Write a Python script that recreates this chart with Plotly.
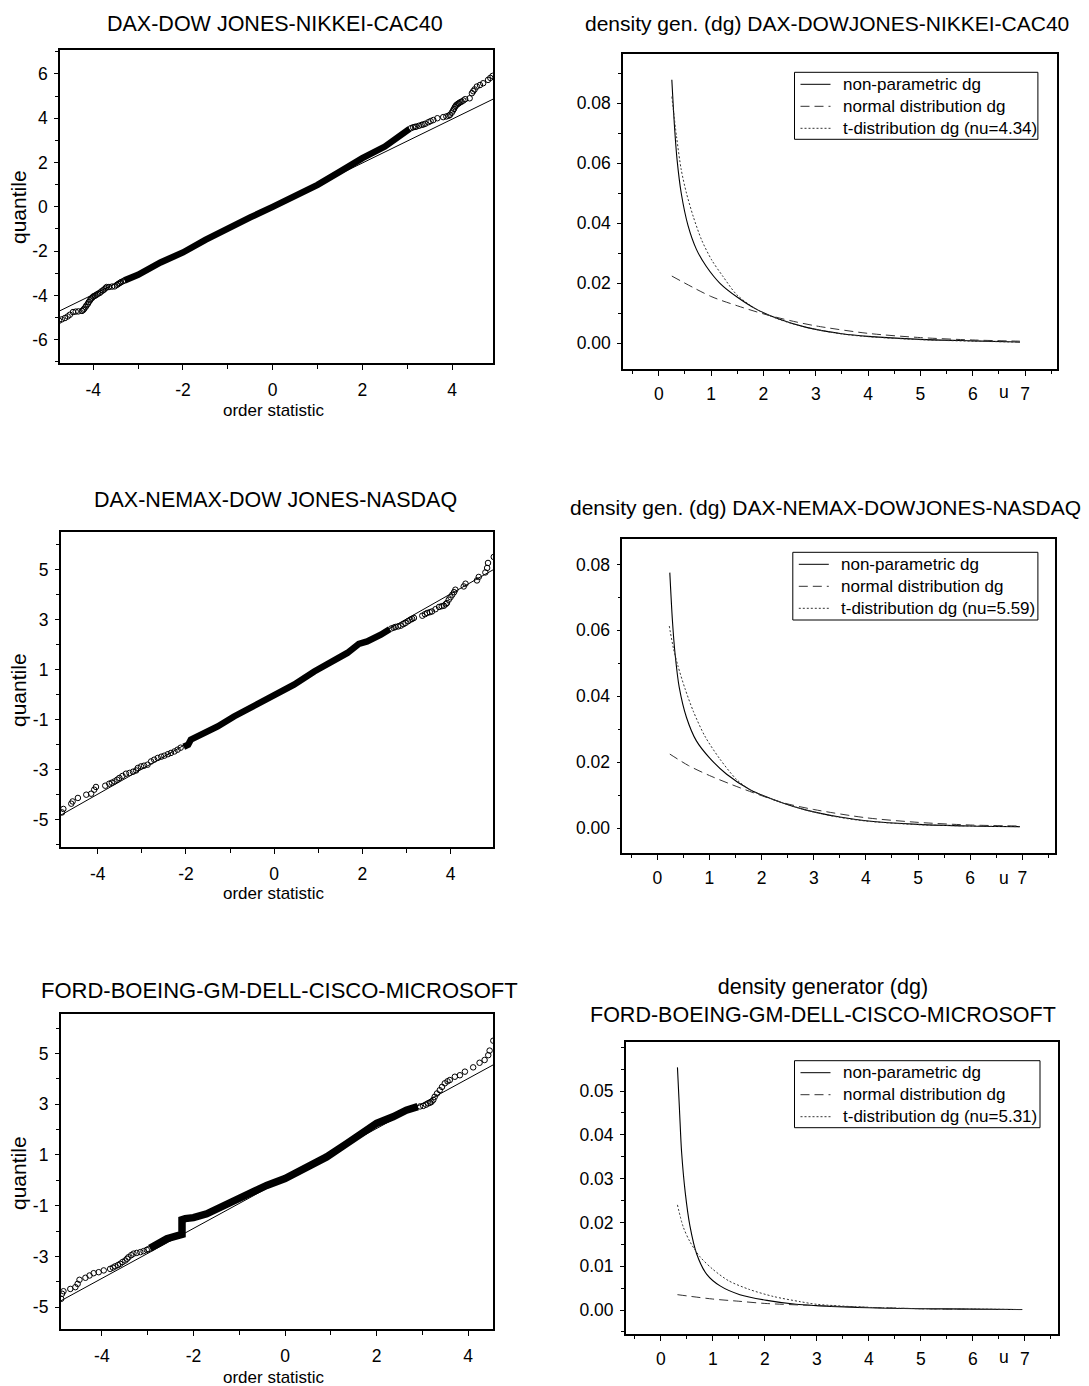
import plotly.graph_objects as go

W, H = 1089, 1386
OFF = 8  # the page body has an 8px margin; positions below are page pixels
FONT = "Liberation Sans, Arial, sans-serif"

# ---------------- data: QQ plots (order statistic vs quantile) ----------------
# Panel 1: DAX-DOW JONES-NIKKEI-CAC40
qq1_tail_x = [-4.76, -4.70, -4.63, -4.57, -4.52, -4.45, -4.39, -4.33, -4.25, -4.22, -4.2, -4.17, -4.15,
              -4.12, -4.1, -4.07, -4.05, -4.02, -4.0, -3.97, -3.95, -3.92, -3.89, -3.85, -3.82, -3.78,
              -3.75, -3.72, -3.70, -3.65, -3.58, -3.52, -3.47, -3.44, -3.41, -3.38, -3.34, -3.3,
              3.08, 3.13, 3.17, 3.2, 3.26, 3.32, 3.36, 3.4, 3.47, 3.52, 3.58, 3.67, 3.80, 3.87, 3.92,
              3.95, 3.99, 4.02, 4.04, 4.06, 4.08, 4.10, 4.13, 4.15, 4.18, 4.21, 4.25, 4.29, 4.39, 4.44,
              4.47, 4.50, 4.55, 4.62, 4.69, 4.80, 4.85, 4.90]
qq1_tail_y = [-5.14, -5.08, -5.02, -4.95, -4.87, -4.75, -4.73, -4.72, -4.70, -4.65, -4.60, -4.52, -4.45,
              -4.38, -4.30, -4.22, -4.15, -4.10, -4.05, -4.02, -4.00, -3.96, -3.92, -3.88, -3.82, -3.77,
              -3.72, -3.66, -3.62, -3.62, -3.60, -3.59, -3.52, -3.48, -3.44, -3.40, -3.36, -3.32,
              3.55, 3.59, 3.61, 3.62, 3.66, 3.70, 3.72, 3.75, 3.82, 3.87, 3.92, 4.00, 4.05, 4.08, 4.11,
              4.15, 4.25, 4.35, 4.42, 4.50, 4.56, 4.61, 4.65, 4.68, 4.72, 4.75, 4.80, 4.86, 4.90, 5.13,
              5.22, 5.30, 5.43, 5.50, 5.58, 5.73, 5.82, 5.91]
qq1_band_x = [-3.3, -3.0, -2.5, -2.0, -1.5, -1.0, -0.5, 0.0, 0.5, 1.0, 1.5, 2.0, 2.5, 2.8, 3.05]
qq1_band_y = [-3.32, -3.07, -2.51, -2.06, -1.49, -0.96, -0.48, 0.0, 0.47, 0.99, 1.59, 2.2, 2.72, 3.17, 3.52]
qq1_line_x = [-4.74, 4.91]
qq1_line_y = [-4.69, 4.86]

# Panel 3: DAX-NEMAX-DOW JONES-NASDAQ
qq3_tail_x = [-4.81, -4.78, -4.6, -4.57, -4.45, -4.26, -4.15, -4.08, -4.04, -3.83, -3.74, -3.68, -3.62,
              -3.56, -3.51, -3.44, -3.36, -3.28, -3.2, -3.13, -3.09, -3.02, -2.95, -2.87, -2.79, -2.72,
              -2.64, -2.56, -2.49, -2.41, -2.34, -2.26, -2.19, -2.12,
              2.66, 2.71, 2.75, 2.81, 2.87, 2.93, 2.98, 3.04, 3.09, 3.13, 3.17, 3.36, 3.42, 3.47, 3.53,
              3.58, 3.66, 3.74, 3.80, 3.85, 3.89, 3.92, 3.96, 4.0, 4.04, 4.08, 4.11, 4.3, 4.34, 4.6,
              4.64, 4.79, 4.83, 4.85, 4.98]
qq3_tail_y = [-4.71, -4.57, -4.36, -4.27, -4.13, -4.0, -3.96, -3.8, -3.69, -3.64, -3.56, -3.52, -3.47,
              -3.40, -3.33, -3.25, -3.16, -3.13, -3.08, -3.03, -2.93, -2.87, -2.84, -2.80, -2.67, -2.6,
              -2.53, -2.48, -2.44, -2.38, -2.33, -2.27, -2.2, -2.12,
              2.65, 2.68, 2.71, 2.73, 2.76, 2.82, 2.87, 2.94, 3.0, 3.03, 3.07, 3.16, 3.22, 3.27, 3.30,
              3.33, 3.42, 3.51, 3.54, 3.56, 3.62, 3.67, 3.8, 3.9, 4.0, 4.1, 4.2, 4.33, 4.44, 4.57,
              4.71, 4.89, 5.07, 5.27, 5.51]
qq3_band_x = [-2.05, -1.95, -1.89, -1.58, -1.28, -0.91, -0.53, 0.0, 0.45, 0.91, 1.28, 1.66, 1.92, 2.11, 2.42, 2.62]
qq3_band_y = [-2.08, -2.0, -1.80, -1.53, -1.27, -0.87, -0.53, 0.0, 0.40, 0.93, 1.27, 1.67, 2.03, 2.13, 2.40, 2.62]
qq3_line_x = [-4.84, 4.97]
qq3_line_y = [-4.82, 5.0]

# Panel 5: FORD-BOEING-GM-DELL-CISCO-MICROSOFT
qq5_tail_x = [-4.89, -4.87, -4.84, -4.69, -4.58, -4.53, -4.49, -4.36, -4.27, -4.18, -4.07, -3.96,
              -3.82, -3.76, -3.71, -3.65, -3.6, -3.55, -3.49, -3.45, -3.42, -3.36, -3.31, -3.24,
              -3.16, -3.09, -3.02, -2.98,
              2.95, 3.02, 3.08, 3.13, 3.17, 3.2, 3.24, 3.27, 3.32, 3.38, 3.43, 3.49, 3.55, 3.6,
              3.71, 3.82, 3.93, 4.11, 4.25, 4.36, 4.44, 4.47, 4.55]
qq5_tail_y = [-4.67, -4.47, -4.37, -4.28, -4.21, -4.08, -3.92, -3.84, -3.75, -3.66, -3.62, -3.55,
              -3.49, -3.44, -3.39, -3.34, -3.29, -3.22, -3.16, -3.09, -3.03, -2.95, -2.89, -2.86,
              -2.83, -2.79, -2.74, -2.71,
              2.91, 2.93, 2.98, 3.03, 3.06, 3.09, 3.17, 3.29, 3.42, 3.55, 3.68, 3.82, 3.9, 3.95,
              4.08, 4.14, 4.28, 4.45, 4.63, 4.74, 4.93, 5.11, 5.5]
qq5_band_x = [-2.95, -2.8, -2.58, -2.25, -2.25, -2.18, -2.0, -1.71, -1.27, -0.84, -0.4, 0.0, 0.47,
              0.91, 1.35, 1.71, 2.0, 2.36, 2.65, 2.9]
qq5_band_y = [-2.68, -2.53, -2.30, -2.13, -1.55, -1.51, -1.47, -1.32, -0.92, -0.53, -0.2, 0.07, 0.53,
              0.92, 1.45, 1.91, 2.24, 2.5, 2.76, 2.9]
qq5_line_x = [-4.90, 4.55]
qq5_line_y = [-4.75, 4.55]

# ---------------- data: density generators ----------------
# Panel 2 (nu=4.34)
dg2_np_u = [0.25, 0.30, 0.35, 0.43, 0.56, 0.72, 0.91, 1.17, 1.49, 1.87, 2.31, 2.82, 3.5, 4.0, 5.0, 6.0, 6.9]
dg2_np_v = [0.0878, 0.0725, 0.0612, 0.0500, 0.0392, 0.0313, 0.0256, 0.0200, 0.0155, 0.0113, 0.0080,
            0.0053, 0.0032, 0.0023, 0.0013, 0.0008, 0.0004]
dg2_t_u = [0.25, 0.34, 0.43, 0.53, 0.66, 0.82, 1.01, 1.23, 1.49, 1.87, 2.31, 2.82, 3.5, 4.0, 5.0, 6.0, 6.9]
dg2_t_v = [0.0822, 0.0689, 0.0578, 0.0500, 0.0422, 0.0344, 0.0278, 0.0222, 0.0162, 0.0113, 0.0079,
           0.0053, 0.0031, 0.0022, 0.0012, 0.0007, 0.0004]
dg2_n_u = [0.25, 1.0, 1.5, 2.0, 2.5, 3.0, 4.0, 5.0, 6.0, 6.9]
dg2_n_v = [0.0224, 0.0156, 0.0125, 0.0098, 0.0076, 0.0058, 0.0033, 0.0019, 0.0011, 0.0007]

# Panel 4 (nu=5.59)
dg4_np_u = [0.24, 0.29, 0.34, 0.42, 0.56, 0.75, 1.01, 1.33, 1.78, 2.35, 2.86, 3.5, 4.0, 5.0, 6.0, 6.95]
dg4_np_v = [0.0775, 0.0630, 0.0530, 0.0428, 0.0336, 0.0265, 0.0212, 0.0164, 0.0117, 0.0080, 0.0055,
            0.0034, 0.0023, 0.0012, 0.0007, 0.0005]
dg4_t_u = [0.23, 0.31, 0.40, 0.53, 0.69, 0.91, 1.20, 1.52, 1.80, 2.35, 2.86, 3.5, 4.0, 5.0, 6.0, 6.95]
dg4_t_v = [0.0613, 0.0545, 0.0490, 0.0424, 0.0355, 0.0280, 0.0210, 0.0148, 0.0115, 0.0080, 0.0055,
           0.0033, 0.0022, 0.0011, 0.0007, 0.0005]
dg4_n_u = [0.24, 0.6, 1.0, 1.6, 2.4, 3.0, 4.0, 5.0, 6.0, 6.95]
dg4_n_v = [0.0225, 0.0190, 0.0160, 0.0122, 0.0078, 0.0057, 0.0032, 0.0018, 0.0010, 0.0007]

# Panel 6 (nu=5.31)
dg6_np_u = [0.32, 0.36, 0.40, 0.47, 0.56, 0.69, 0.88, 1.14, 1.52, 2.04, 2.6, 3.0, 4.0, 5.0, 6.0, 6.95]
dg6_np_v = [0.0554, 0.0455, 0.0360, 0.0268, 0.0192, 0.0128, 0.0082, 0.0055, 0.0035, 0.0022, 0.0013,
            0.0010, 0.0005, 0.0003, 0.0002, 0.0001]
dg6_t_u = [0.32, 0.43, 0.56, 0.75, 1.0, 1.3, 1.7, 2.16, 2.68, 3.0, 4.0, 5.0, 6.0, 6.95]
dg6_t_v = [0.0240, 0.0190, 0.0156, 0.0122, 0.0093, 0.0067, 0.0047, 0.0031, 0.0019, 0.0013, 0.0006,
           0.0003, 0.0002, 0.0001]
dg6_n_u = [0.32, 1.0, 1.5, 2.0, 3.0, 4.0, 5.0, 6.0, 6.95]
dg6_n_v = [0.0035, 0.0025, 0.0020, 0.0015, 0.0010, 0.0006, 0.0003, 0.00015, 0.0001]

# ---------------- tick labels ----------------
qq1_yticks = [-6, -4, -2, 0, 2, 4, 6]
qq35_yticks = [-5, -3, -1, 1, 3, 5]
qq_xticks = [-4, -2, 0, 2, 4]
dg_xticks = [0, 1, 2, 3, 4, 5, 6, 7]
dg24_yticks = [0.0, 0.02, 0.04, 0.06, 0.08]
dg6_yticks = [0.0, 0.01, 0.02, 0.03, 0.04, 0.05]

titles = ["DAX-DOW JONES-NIKKEI-CAC40",
          "density gen. (dg) DAX-DOWJONES-NIKKEI-CAC40",
          "DAX-NEMAX-DOW JONES-NASDAQ",
          "density gen. (dg) DAX-NEMAX-DOWJONES-NASDAQ",
          "FORD-BOEING-GM-DELL-CISCO-MICROSOFT",
          "density generator (dg)<br>FORD-BOEING-GM-DELL-CISCO-MICROSOFT"]
legend_names = ["non-parametric dg", "normal distribution dg", "t-distribution dg (nu={})"]
nus = ["4.34", "5.59", "5.31"]

SOLID = dict(color="black", width=1.1)
DASH = dict(color="#333333", width=1, dash="9px,5px")
DOT = dict(color="#333333", width=1, dash="2px,2px")


def lab(v):
    return str(v).replace("\u2212", "-")


def px(x):
    return (x - OFF) / W


def py(y):
    return 1 - (y - OFF) / H


fig = go.Figure()

# ---------- QQ panels ----------
qq_sets = [
    (1, qq1_tail_x, qq1_tail_y, qq1_band_x, qq1_band_y, qq1_line_x, qq1_line_y, 6.5),
    (3, qq3_tail_x, qq3_tail_y, qq3_band_x, qq3_band_y, qq3_line_x, qq3_line_y, 6.5),
    (5, qq5_tail_x, qq5_tail_y, qq5_band_x, qq5_band_y, qq5_line_x, qq5_line_y, 7.5),
]
for k, tx, ty, bx, by, lx, ly, bw in qq_sets:
    xa = "x" if k == 1 else f"x{k}"
    ya = "y" if k == 1 else f"y{k}"
    fig.add_trace(go.Scatter(x=lx, y=ly, mode="lines", line=dict(color="black", width=1),
                             xaxis=xa, yaxis=ya, showlegend=False, hoverinfo="skip"))
    fig.add_trace(go.Scatter(x=bx, y=by, mode="lines", line=dict(color="black", width=bw),
                             xaxis=xa, yaxis=ya, showlegend=False))
    fig.add_trace(go.Scatter(x=tx, y=ty, mode="markers",
                             marker=dict(symbol="circle-open", size=5.5, color="black",
                                         line=dict(width=1, color="black")),
                             xaxis=xa, yaxis=ya, showlegend=False))

# ---------- density generator panels ----------
dg_sets = [
    (2, dg2_np_u, dg2_np_v, dg2_n_u, dg2_n_v, dg2_t_u, dg2_t_v, nus[0]),
    (4, dg4_np_u, dg4_np_v, dg4_n_u, dg4_n_v, dg4_t_u, dg4_t_v, nus[1]),
    (6, dg6_np_u, dg6_np_v, dg6_n_u, dg6_n_v, dg6_t_u, dg6_t_v, nus[2]),
]
for k, nu_u, nu_v, nn_u, nn_v, nt_u, nt_v, nu in dg_sets:
    xa, ya = f"x{k}", f"y{k}"
    fig.add_trace(go.Scatter(x=nu_u, y=nu_v, mode="lines", name=legend_names[0],
                             line=dict(**SOLID, shape="spline", smoothing=0.8),
                             xaxis=xa, yaxis=ya, showlegend=False))
    fig.add_trace(go.Scatter(x=nn_u, y=nn_v, mode="lines", name=legend_names[1],
                             line=dict(**DASH, shape="spline", smoothing=0.8),
                             xaxis=xa, yaxis=ya, showlegend=False))
    fig.add_trace(go.Scatter(x=nt_u, y=nt_v, mode="lines", name=legend_names[2].format(nu),
                             line=dict(**DOT, shape="spline", smoothing=0.8),
                             xaxis=xa, yaxis=ya, showlegend=False))

# panel boxes in page pixels: (left, right, top, bottom)
boxes = {
    1: (60, 493, 50, 363),
    2: (623, 1056.5, 54, 369.3),
    3: (60.7, 493.3, 531.7, 846.7),
    4: (622.3, 1054.7, 539, 853.3),
    5: (60.7, 493.3, 1014.3, 1329.3),
    6: (625.8, 1058.2, 1041.7, 1334),
}
xranges = {1: [-4.74, 4.91], 2: [-0.683, 7.60], 3: [-4.84, 4.97],
           4: [-0.671, 7.62], 5: [-4.90, 4.55], 6: [-0.673, 7.64]}
yranges = {1: [-7.05, 7.08], 2: [-0.00867, 0.0964], 3: [-6.08, 6.52],
           4: [-0.00758, 0.0877], 5: [-5.87, 6.54], 6: [-0.00548, 0.06126]}

tickfont = dict(family=FONT, size=17.5, color="black")
layout = dict(width=W, height=H, margin=dict(l=0, r=0, t=0, b=0, autoexpand=False),
              paper_bgcolor="white", plot_bgcolor="white", showlegend=False,
              font=dict(family=FONT, color="black"))

for k in range(1, 7):
    x0, x1, y0, y1 = boxes[k]
    xname = "xaxis" if k == 1 else f"xaxis{k}"
    yname = "yaxis" if k == 1 else f"yaxis{k}"
    anchor_x = "x" if k == 1 else f"x{k}"
    anchor_y = "y" if k == 1 else f"y{k}"
    if k in (1, 3, 5):
        xt = qq_xticks
        yt = qq1_yticks if k == 1 else qq35_yticks
        xminor = dict(ticks="outside", ticklen=4, dtick=1, tick0=0, tickcolor="black", tickwidth=1)
        yminor = dict(ticks="outside", ticklen=3, dtick=1, tick0=0, tickcolor="black", tickwidth=1)
        xtt = [lab(v) for v in xt]
        ytt = [lab(v) for v in yt]
        xstand = 5
    else:
        xt = dg_xticks
        yt = dg24_yticks if k != 6 else dg6_yticks
        xminor = dict(ticks="outside", ticklen=3, dtick=0.5, tick0=0, tickcolor="black", tickwidth=1)
        yminor = dict(ticks="outside", ticklen=3, dtick=(0.01 if k != 6 else 0.005), tick0=0,
                      tickcolor="black", tickwidth=1)
        xtt = [str(v) for v in xt]
        ytt = [f"{v:.2f}" for v in yt]
        xstand = 3
    layout[xname] = dict(domain=[px(x0), px(x1)], range=xranges[k], anchor=anchor_y,
                         showline=True, mirror=True, linecolor="black", linewidth=1.6,
                         showgrid=False, zeroline=False, ticks="outside", ticklen=5,
                         tickcolor="black", tickwidth=1, tickmode="array", tickvals=xt, ticktext=xtt,
                         tickfont=tickfont, ticklabelstandoff=xstand, minor=xminor)
    layout[yname] = dict(domain=[py(y1), py(y0)], range=yranges[k], anchor=anchor_x,
                         showline=True, mirror=True, linecolor="black", linewidth=1.6,
                         showgrid=False, zeroline=False, ticks="outside", ticklen=4,
                         tickcolor="black", tickwidth=1, tickmode="array", tickvals=yt, ticktext=ytt,
                         tickfont=tickfont, ticklabelstandoff=3, minor=yminor)

annotations = []
shapes = []


def add_text(text, cx, cy, size, angle=0, xanchor="center"):
    annotations.append(dict(text=text, x=px(cx), y=py(cy), xref="paper", yref="paper",
                            xanchor=xanchor, yanchor="middle", showarrow=False, textangle=angle,
                            font=dict(family=FONT, size=size, color="black")))


add_text(titles[0], 275, 24, 21.5)
add_text(titles[1], 827, 24, 21)
add_text(titles[2], 275, 500, 21.5)
add_text(titles[3], 825, 507, 21)
add_text(titles[4], 279, 990, 22)
annotations.append(dict(text=titles[5], x=px(823), y=py(1001), xref="paper", yref="paper",
                        xanchor="center", yanchor="middle", showarrow=False, align="center",
                        font=dict(family=FONT, size=21.5, color="black")))
for cy in (410, 893, 1377):
    add_text("order statistic", 274, cy, 17)
for cy in (207, 690, 1173):
    add_text("quantile", 18, cy, 21, angle=-90)
for cy in (392, 878, 1357):
    add_text("u", 1004, cy, 17.5)

# ---------- legends (box, line samples, labels) ----------
legend_boxes = [(794.5, 1037.9, 72.3, 139.3, nus[0]),
                (792.8, 1037.9, 552.3, 620.0, nus[1]),
                (794.5, 1040.0, 1060.7, 1127.7, nus[2])]
styles = [SOLID, DASH, DOT]
for lx0, lx1, ly0, ly1, nu in legend_boxes:
    shapes.append(dict(type="rect", xref="paper", yref="paper", x0=px(lx0), x1=px(lx1),
                       y0=py(ly0), y1=py(ly1), line=dict(color="black", width=1),
                       fillcolor="white", layer="above"))
    for i, name in enumerate(legend_names):
        cy = ly0 + 12 + 22 * i
        st = styles[i]
        shapes.append(dict(type="line", xref="paper", yref="paper",
                           x0=px(lx0 + 6), x1=px(lx0 + 36), y0=py(cy), y1=py(cy),
                           line=dict(color=st["color"], width=1, dash=st.get("dash", "solid")),
                           layer="above"))
        add_text(name.format(nu), lx0 + 46, cy, 17, xanchor="left")

layout["annotations"] = annotations
layout["shapes"] = shapes
fig.update_layout(**layout)
fig.write_html("out.html")
